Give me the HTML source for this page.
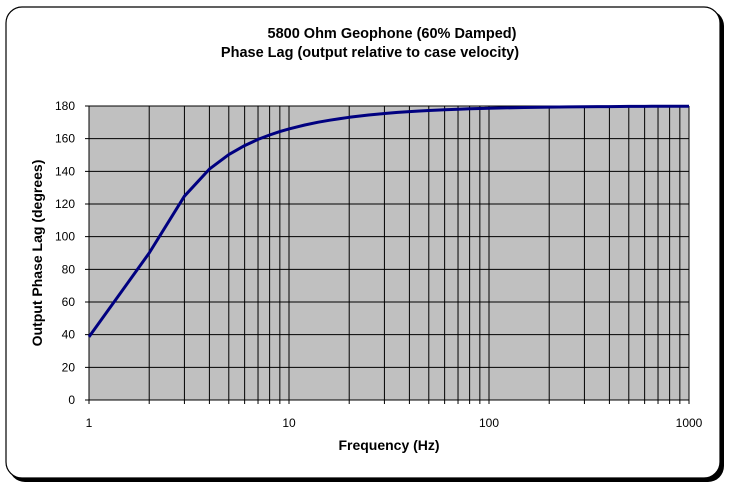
<!DOCTYPE html>
<html><head><style>
body{margin:0;width:729px;height:486px;background:#fff;overflow:hidden;font-family:"Liberation Sans",Arial,sans-serif}
</style></head><body>
<svg id="s" width="729" height="486" xmlns="http://www.w3.org/2000/svg" font-family="Liberation Sans, Arial, sans-serif">
<rect x="9" y="10" width="715" height="472" rx="16" fill="#000"/>
<rect x="6" y="7" width="714" height="471" rx="16" fill="#fff" stroke="#000" stroke-width="1.2"/>
<text x="392" y="38" font-size="14.5" font-weight="bold" text-anchor="middle">5800 Ohm Geophone (60% Damped)</text>
<text x="370" y="57" font-size="14.5" font-weight="bold" text-anchor="middle">Phase Lag (output relative to case velocity)</text>
<rect x="89" y="106" width="600" height="294" fill="#c0c0c0"/>
<g id="grid" stroke="#000" stroke-width="1"></g>
<g id="lbl" font-size="12" fill="#000"></g>
<path id="c" fill="none" stroke="#000080" stroke-width="3" stroke-linejoin="round"/>
<text x="389" y="450" font-size="14" font-weight="bold" text-anchor="middle">Frequency (Hz)</text>
<text transform="translate(42,253) rotate(-90)" font-size="14" font-weight="bold" text-anchor="middle">Output Phase Lag (degrees)</text>
</svg>
<script>
var ns="http://www.w3.org/2000/svg",g=document.getElementById('grid'),l=document.getElementById('lbl');
function X(f){return 89+200*Math.log10(f);}
function Y(v){return 400-v*294/180;}
function ln(x1,y1,x2,y2){var e=document.createElementNS(ns,'line');e.setAttribute('x1',x1);e.setAttribute('y1',y1);e.setAttribute('x2',x2);e.setAttribute('y2',y2);g.appendChild(e);}
function tx(x,y,s,a){var e=document.createElementNS(ns,'text');e.setAttribute('x',x);e.setAttribute('y',y);e.setAttribute('text-anchor',a);e.textContent=s;l.appendChild(e);}
for(var d=1;d<=100;d*=10)for(var k=1;k<10;k++){var x=X(d*k);ln(x,106,x,404);}
ln(689,106,689,404);
for(var v=0;v<=180;v+=20){var y=Y(v);ln(85,y,689,y);tx(75,y+4,v,'end');}
ln(89,106,89,400);
[1,10,100,1000].forEach(function(f){tx(X(f),427,f,'middle');});
var fs=[];for(var i=1;i<10;i++)fs.push(i);for(i=10;i<20;i+=2)fs.push(i);for(i=20;i<100;i+=5)fs.push(i);for(i=100;i<=1000;i+=50)fs.push(i);
var p='';fs.forEach(function(f){var r=f/2,a=Math.atan2(1.2*r,1-r*r)*180/Math.PI;p+=(p?'L':'M')+X(f).toFixed(1)+','+Y(a).toFixed(1);});
document.getElementById('c').setAttribute('d',p);
</script>
</body></html>
